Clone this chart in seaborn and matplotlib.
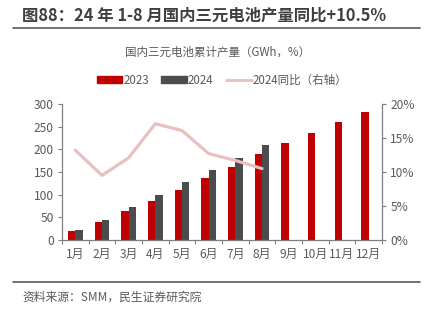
import matplotlib
matplotlib.use("Agg")
import matplotlib.pyplot as plt
import seaborn as sns
import pandas as pd
import numpy as np
from matplotlib.patches import Patch
from matplotlib.lines import Line2D

sns.set_theme(style="white")
plt.rcParams['font.family'] = ['Noto Sans CJK SC', 'DejaVu Sans']

months = ["1月", "2月", "3月", "4月", "5月", "6月", "7月", "8月", "9月", "10月", "11月", "12月"]
prod_2023 = [20, 40, 63, 86, 111, 137, 162, 189, 214, 237, 261, 282]
prod_2024 = [22, 45, 72, 100, 129, 154, 181, 209]
yoy_2024 = [13.2, 9.5, 12.1, 17.1, 16.1, 12.7, 11.7, 10.5]

RED = "#c00000"
GREY = "#4b4c4e"
PINK = "#e8c0c0"
TXT = "#595959"

rows = [{"month": m, "year": "2023", "value": v} for m, v in zip(months, prod_2023)]
rows += [{"month": m, "year": "2024", "value": v} for m, v in zip(months, prod_2024)]
df = pd.DataFrame(rows)

fig = plt.figure(figsize=(4.29, 3.21), dpi=100)
ax = fig.add_axes([62 / 429, 1 - 240 / 321, 320 / 429, 136 / 321])

sns.barplot(data=df, x="month", y="value", hue="year", order=months,
            hue_order=["2023", "2024"], palette=[RED, GREY], width=0.56,
            saturation=1, ax=ax, legend=False, linewidth=0)

ax.set_ylim(0, 300)
ax.set_yticks(range(0, 301, 50))
ax.set_xlim(-0.5, len(months) - 0.5)
ax.set_xlabel("")
ax.set_ylabel("")

ax2 = ax.twinx()
line_df = pd.DataFrame({"pos": [months.index(m) for m in months[:len(yoy_2024)]],
                        "yoy": yoy_2024})
sns.lineplot(data=line_df, x="pos", y="yoy", ax=ax2, color=PINK, linewidth=2.3)
ax2.set_ylim(0, 20)
ax2.set_yticks(range(0, 21, 5))
ax2.set_yticklabels([f"{t}%" for t in range(0, 21, 5)])
ax2.set_xlim(-0.5, len(months) - 0.5)
ax2.set_ylabel("")
ax2.set_xlabel("")

for a in (ax, ax2):
    for s in a.spines.values():
        s.set_visible(False)
    a.tick_params(colors=TXT, labelsize=8.6)

ax.spines["left"].set_visible(True)
ax.spines["bottom"].set_visible(True)
ax2.spines["right"].set_visible(True)
for s in (ax.spines["left"], ax.spines["bottom"], ax2.spines["right"]):
    s.set_color("#7f7f7f")
    s.set_linewidth(0.9)

ax.tick_params(axis="y", direction="out", length=3, width=0.8, color="#7f7f7f", pad=3, left=True)
ax2.tick_params(axis="y", direction="out", length=3, width=0.8, color="#7f7f7f", pad=3, right=True)
ax.set_xticks(np.arange(len(months)))
ax.set_xticklabels(months)
ax.set_xticks(np.arange(-0.5, len(months)), minor=True)
ax.tick_params(axis="x", which="major", length=0, pad=6)
ax.tick_params(axis="x", which="minor", direction="out", length=3, width=0.8,
               color="#7f7f7f", bottom=True)

# title and frame lines
fig.text(22 / 429, 1 - 16 / 321, "图88：24 年 1-8 月国内三元电池产量同比+10.5%",
         fontsize=11.8, fontweight="bold", color="#404040", va="center", ha="left")
fig.add_artist(Line2D([13 / 429, 420 / 429], [1 - 27.5 / 321] * 2, color="#595959", lw=1.2))
fig.text(218 / 429, 1 - 52 / 321, "国内三元电池累计产量（GWh，%）",
         fontsize=8.3, color=TXT, va="center", ha="center")

handles = [Patch(color=RED), Patch(color=GREY), Line2D([], [], color=PINK, lw=2)]
fig.legend(handles, ["2023", "2024", "2024同比（右轴）"], loc="center",
           bbox_to_anchor=(222 / 429, 1 - 80 / 321), ncol=3, frameon=False,
           fontsize=8.3, labelcolor=TXT, handlelength=2.2, handleheight=0.6,
           columnspacing=1.1, handletextpad=0.1)

fig.add_artist(Line2D([13 / 429, 420 / 429], [1 - 282 / 321] * 2, color="#595959", lw=1.2))
fig.text(22 / 429, 1 - 297 / 321, "资料来源：SMM，民生证券研究院",
         fontsize=8.5, color=TXT, va="center", ha="left")

fig.savefig("out.png", dpi=100)
